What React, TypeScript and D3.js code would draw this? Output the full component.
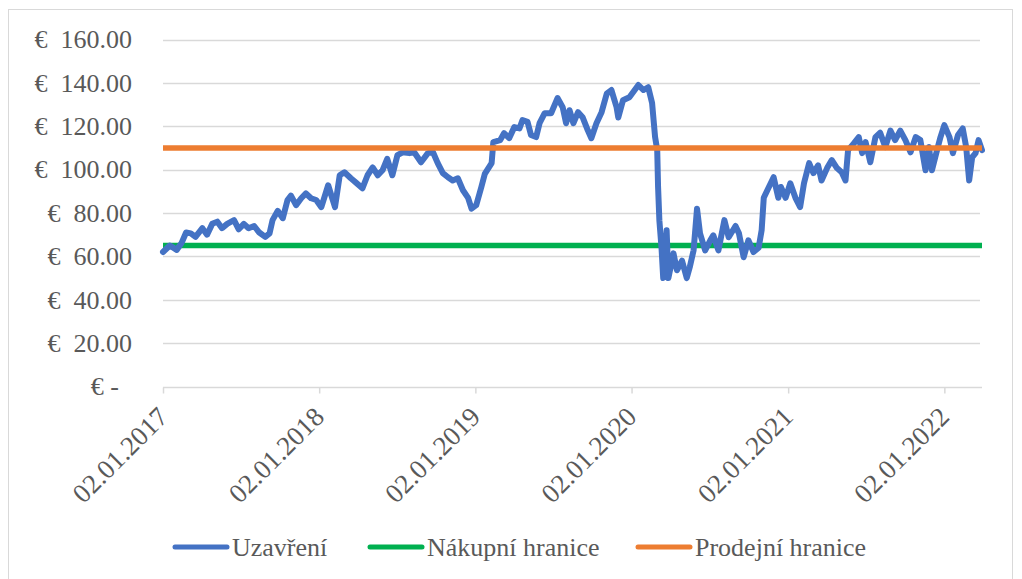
import React, { useEffect, useRef } from 'react';
import * as d3 from 'd3';

// Uzavření - closing price
const closeDates = [
  '2017-01-02', '2017-01-18', '2017-02-03', '2017-02-14', '2017-02-25', '2017-03-08', '2017-03-19',
  '2017-04-04', '2017-04-15', '2017-04-27', '2017-05-09', '2017-05-20', '2017-06-01', '2017-06-17',
  '2017-06-28', '2017-07-10', '2017-07-21', '2017-08-03', '2017-08-15', '2017-08-29', '2017-09-08',
  '2017-09-15', '2017-09-27', '2017-10-09', '2017-10-20', '2017-10-28', '2017-11-09', '2017-11-21',
  '2017-12-02', '2017-12-14', '2017-12-26', '2018-01-07', '2018-01-23', '2018-02-08', '2018-02-19',
  '2018-03-02', '2018-03-17', '2018-03-29', '2018-04-13', '2018-04-25', '2018-05-07', '2018-05-19',
  '2018-05-30', '2018-06-10', '2018-06-22', '2018-07-04', '2018-07-16', '2018-08-01', '2018-08-12',
  '2018-08-28', '2018-09-13', '2018-09-25', '2018-10-06', '2018-10-18', '2018-10-30', '2018-11-10',
  '2018-11-22', '2018-12-04', '2018-12-16', '2018-12-24', '2019-01-04', '2019-01-16', '2019-01-24',
  '2019-02-09', '2019-02-13', '2019-03-01', '2019-03-10', '2019-03-22', '2019-04-03', '2019-04-15',
  '2019-04-22', '2019-05-04', '2019-05-12', '2019-05-24', '2019-06-01', '2019-06-13', '2019-06-28',
  '2019-07-13', '2019-07-25', '2019-08-02', '2019-08-10', '2019-08-19', '2019-08-30', '2019-09-10',
  '2019-09-22', '2019-09-30', '2019-10-12', '2019-10-24', '2019-11-05', '2019-11-16', '2019-11-28',
  '2019-12-02', '2019-12-13', '2019-12-28', '2020-01-18', '2020-01-30', '2020-02-10', '2020-02-19',
  '2020-02-26', '2020-03-02', '2020-03-04', '2020-03-07', '2020-03-12', '2020-03-16', '2020-03-24',
  '2020-03-28', '2020-04-09', '2020-04-17', '2020-04-29', '2020-05-10', '2020-05-17', '2020-05-26',
  '2020-06-03', '2020-06-10', '2020-06-22', '2020-07-04', '2020-07-11', '2020-07-23', '2020-08-06',
  '2020-08-16', '2020-09-01', '2020-09-09', '2020-09-20', '2020-10-01', '2020-10-13', '2020-10-25',
  '2020-11-01', '2020-11-06', '2020-11-18', '2020-11-29', '2020-12-10', '2020-12-16', '2020-12-27',
  '2021-01-07', '2021-01-19', '2021-01-30', '2021-02-08', '2021-02-20', '2021-03-02', '2021-03-13',
  '2021-03-21', '2021-04-03', '2021-04-14', '2021-04-26', '2021-05-07', '2021-05-16', '2021-05-22',
  '2021-06-04', '2021-06-16', '2021-06-24', '2021-07-02', '2021-07-13', '2021-07-25', '2021-08-05',
  '2021-08-17', '2021-08-29', '2021-09-09', '2021-09-21', '2021-10-03', '2021-10-15', '2021-10-27',
  '2021-11-07', '2021-11-19', '2021-11-27', '2021-12-04', '2021-12-16', '2021-12-24', '2022-01-02',
  '2022-01-14', '2022-01-22', '2022-02-03', '2022-02-14', '2022-02-22', '2022-03-01', '2022-03-08',
  '2022-03-16', '2022-03-23', '2022-03-31',
];

const closeValues = [
  62, 65, 63, 66, 71, 70.6, 69,
  73, 70, 75, 76, 73, 75, 76.7,
  72.5, 75, 73, 74, 71, 69, 70.6,
  76.7, 81, 77.6, 86, 88, 83.6, 86.8,
  89, 86.8, 86, 82.7, 92.8, 82.7, 97.4,
  98.8, 96, 94, 91.4, 97.4, 101, 97.4,
  99.7, 105, 97.4, 106.7, 108, 107.6, 108,
  103.4, 107.6, 108, 103, 98.4, 96.5, 95,
  96, 90.5, 87, 82, 83.6, 92, 98,
  103, 112.7, 113.6, 116.8, 114.5, 119.6, 119,
  122.8, 122, 116, 115, 121.4, 126, 126,
  133, 128.8, 121.4, 127.4, 121.4, 126.5, 124,
  118, 114.5, 121.4, 126.5, 135, 136.7, 128.8,
  124, 132, 133.4, 139, 136.7, 138, 130.7,
  115, 109, 92, 76.7, 64, 50, 72,
  50, 61.4, 53.6, 58, 50, 55, 62.8,
  82, 70.6, 62.8, 67.4, 69.7, 62.8, 76.7,
  68.8, 74, 70.6, 59.6, 67.4, 62, 64,
  72, 87, 92, 96.5, 87, 92, 87,
  93.7, 87, 82.7, 93.7, 103, 98.4, 102,
  95, 100.7, 104.4, 100.7, 98.8, 95, 109,
  112, 115, 107.6, 112.7, 103.4, 115, 117,
  110.4, 118, 113.6, 118, 113.6, 108, 115,
  113.6, 99.7, 110.4, 99.7, 109, 115, 120.5,
  115, 107.6, 116, 119, 110.4, 95, 105.7,
  107.6, 113.6, 109,
];

const buyLimit = 65; // Nákupní hranice
const sellLimit = 110; // Prodejní hranice

const yTicks = [0, 20, 40, 60, 80, 100, 120, 140, 160];
const xTickDates = ['2017-01-02', '2018-01-02', '2019-01-02', '2020-01-02', '2021-01-02', '2022-01-02'];

const seriesNames = ['Uzavření', 'Nákupní hranice', 'Prodejní hranice'];
const seriesColors = ['#4472C4', '#00B050', '#ED7D31'];

const W = 1022;
const H = 579;
const FONT = "'Times New Roman', 'Liberation Serif', Tinos, Times, serif";
const TEXT = '#595959';
const GRID = '#D9D9D9';

const App: React.FC = () => {
  const svgRef = useRef<SVGSVGElement | null>(null);

  useEffect(() => {
    const parse = d3.timeParse('%Y-%m-%d');
    const dates = closeDates.map((d) => parse(d) as Date);
    const rows = dates.map((d, i) => ({ date: d, close: closeValues[i] }));

    const svg = d3.select(svgRef.current);
    svg.selectAll('*').remove();

    const x = d3.scaleTime()
      .domain(d3.extent(dates) as [Date, Date])
      .range([163, 982]);
    const y = d3.scaleLinear().domain([0, 160]).range([386.5, 39.5]);

    // chart frame
    svg.append('rect')
      .attr('x', 8.5).attr('y', 9.5)
      .attr('width', 1004).attr('height', 585)
      .attr('fill', 'white')
      .attr('stroke', GRID);

    // gridlines
    svg.append('g')
      .selectAll('line')
      .data(yTicks.filter((t) => t > 0))
      .join('line')
      .attr('x1', 163).attr('x2', 980)
      .attr('y1', (d) => Math.round(y(d)) + 0.5)
      .attr('y2', (d) => Math.round(y(d)) + 0.5)
      .attr('stroke', GRID).attr('stroke-width', 1.5);

    // y labels
    const yl = svg.append('g')
      .style('font-family', FONT).attr('font-size', 26).attr('fill', TEXT);
    yl.selectAll('text')
      .data(yTicks)
      .join('text')
      .attr('x', (d) => (d === 0 ? 119 : 132))
      .attr('y', (d) => y(d))
      .attr('dy', '0.34em')
      .attr('text-anchor', 'end')
      .style('white-space', 'pre')
      .text((d) => (d === 0 ? '€ -' : `€  ${d3.format('.2f')(d)}`));

    // x axis
    const xAxis = d3.axisBottom(x)
      .tickValues(xTickDates.map((d) => parse(d) as Date))
      .tickSize(6)
      .tickFormat(d3.timeFormat('%d.%m.%Y') as any);
    const gx = svg.append('g')
      .attr('transform', `translate(0,${Math.round(y(0)) + 0.5})`)
      .call(xAxis);
    gx.attr('font-family', null).attr('font-size', null);
    gx.select('.domain').attr('stroke', GRID).attr('stroke-width', 1.5)
      .attr('d', 'M163,0H982');
    gx.selectAll('.tick line').attr('stroke', GRID).attr('stroke-width', 1.5);
    gx.selectAll('.tick text')
      .style('font-family', FONT).style('font-size', '27px').attr('fill', TEXT)
      .attr('text-anchor', 'end')
      .attr('x', 0).attr('y', 0).attr('dy', 0)
      .attr('transform', 'translate(6,31) rotate(-45)');

    // limits and price
    const hLine = (v: number) => d3.line<Date>().x((d) => x(d)).y(() => y(v));
    svg.append('path').datum(dates)
      .attr('fill', 'none').attr('stroke', seriesColors[1]).attr('stroke-width', 5.5)
      .attr('d', hLine(buyLimit));

    svg.append('path').datum(rows)
      .attr('fill', 'none')
      .attr('stroke', seriesColors[0])
      .attr('stroke-width', 6)
      .attr('stroke-linejoin', 'round')
      .attr('stroke-linecap', 'round')
      .attr('d', d3.line<{ date: Date; close: number }>()
        .x((d) => x(d.date))
        .y((d) => y(d.close)));

    svg.append('path').datum(dates)
      .attr('fill', 'none').attr('stroke', seriesColors[2]).attr('stroke-width', 5.5)
      .attr('d', hLine(sellLimit));

    // legend
    const legendX = [173, 368, 636];
    const lg = svg.append('g').style('font-family', FONT).attr('font-size', 26).attr('fill', TEXT);
    seriesNames.forEach((name, i) => {
      lg.append('line')
        .attr('x1', legendX[i] + 2).attr('x2', legendX[i] + 54)
        .attr('y1', 547).attr('y2', 547)
        .attr('stroke', seriesColors[i]).attr('stroke-width', 5)
        .attr('stroke-linecap', 'round');
      lg.append('text')
        .attr('x', legendX[i] + 59).attr('y', 547).attr('dy', '0.34em')
        .text(name);
    });
  }, []);

  return (
    <svg
      ref={svgRef}
      width={W}
      height={H}
      style={{ position: 'absolute', left: 0, top: 0, background: 'white' }}
    />
  );
};

export default App;
